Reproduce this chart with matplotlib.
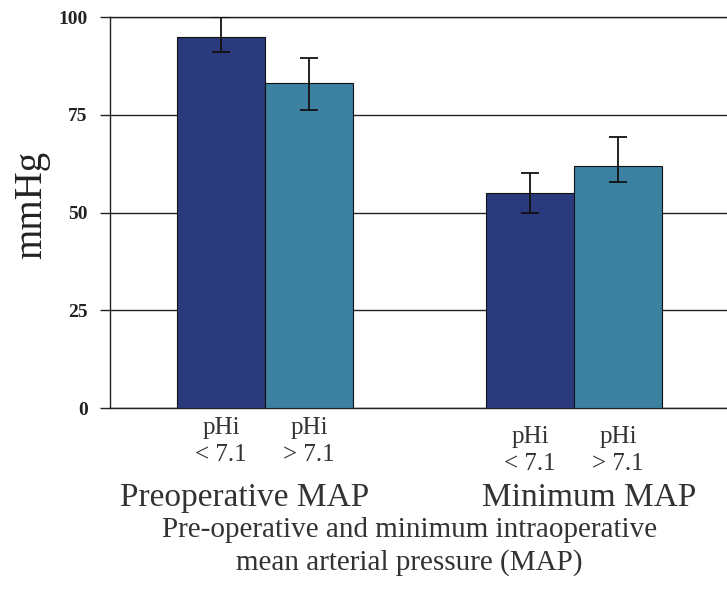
import matplotlib
matplotlib.use('Agg')
import matplotlib.pyplot as plt
import matplotlib.transforms as mtransforms
import numpy as np

plt.rcParams['font.family'] = ['Liberation Serif', 'DejaVu Serif']

groups = ['Preoperative MAP', 'Minimum MAP']
series = ['pHi\n< 7.1', 'pHi\n> 7.1']
low_vals = [95, 55]     # pHi < 7.1
high_vals = [83, 62]    # pHi > 7.1
low_err_minus = [4, 5]
low_err_plus = [5, 5]
high_err_minus = [6.8, 4.2]
high_err_plus = [6.5, 7.3]
yticks = [0, 25, 50, 75, 100]

dark = '#2b3a7c'
light = '#3c80a2'

fig = plt.figure(figsize=(7.27, 5.91), dpi=100)
ax = fig.add_axes([0.1513, 0.3096, 0.8487, 0.6616])

x = np.arange(len(groups))
w = 0.285
ax.bar(x - w / 2, low_vals, w, color=dark, edgecolor='#111111', linewidth=0.8, zorder=3)
ax.bar(x + w / 2, high_vals, w, color=light, edgecolor='#111111', linewidth=0.8, zorder=3)
ax.errorbar(x - w / 2, low_vals, yerr=[low_err_minus, low_err_plus], fmt='none',
            ecolor='#111111', elinewidth=1.3, capsize=6.5, capthick=1.3, zorder=4)
ax.errorbar(x + w / 2, high_vals, yerr=[high_err_minus, high_err_plus], fmt='none',
            ecolor='#111111', elinewidth=1.3, capsize=6.5, capthick=1.3, zorder=4)

ax.set_xlim(-0.502, 1.495)
ax.set_ylim(0, 100)
ax.set_yticks(yticks)
ax.set_yticklabels([str(t) for t in yticks], fontsize=14, fontweight='bold', color='#222222')
ax.tick_params(axis='y', length=7, width=1, color='#222222', pad=9)
ax.set_xticks([])
ax.grid(axis='y', color='#222222', linewidth=1, zorder=0)
ax.spines['right'].set_visible(False)
for s in ['top', 'bottom', 'left']:
    ax.spines[s].set_color('#222222')
    ax.spines[s].set_linewidth(1)

ax.set_ylabel('mmHg', fontsize=28, color='#222222')
ax.yaxis.set_label_coords(-0.097, 0.52)

trans = mtransforms.blended_transform_factory(ax.transData, ax.transAxes)
label_y = [-0.022, -0.045]
for i in range(len(groups)):
    for j, off in enumerate([-w / 2, w / 2]):
        ax.text(x[i] + off, label_y[i], series[j], transform=trans, ha='center', va='top',
                fontsize=18, color='#333333', linespacing=1.3)

group_off = [-0.065, 0.05]
for i, g in enumerate(groups):
    ax.text(x[i] + group_off[i], -0.23, g, transform=trans, ha='center', va='center',
            fontsize=24, color='#333333')

fig.text(0.563, 0.076, 'Pre-operative and minimum intraoperative\nmean arterial pressure (MAP)',
         ha='center', va='center', fontsize=21, color='#333333', linespacing=1.3)

fig.savefig('out.png', dpi=100)
